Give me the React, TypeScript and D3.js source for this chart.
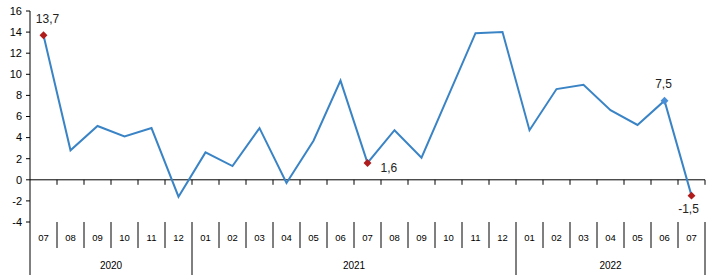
import React from "react";
import * as d3 from "d3";

const months = ["07","08","09","10","11","12","01","02","03","04","05","06","07","08","09","10","11","12","01","02","03","04","05","06","07"];
const years = ["2020","2020","2020","2020","2020","2020","2021","2021","2021","2021","2021","2021","2021","2021","2021","2021","2021","2021","2022","2022","2022","2022","2022","2022","2022"];
const values = [13.7,2.8,5.1,4.1,4.9,-1.6,2.6,1.3,4.9,-0.3,3.7,9.4,1.6,4.7,2.1,8.0,13.9,14.0,4.7,8.6,9.0,6.6,5.2,7.5,-1.5];
const yTicks = [16,14,12,10,8,6,4,2,0,-2,-4];
const labelled = [
  { i: 0, text: "13,7", color: "#b01c1c", dx: 4, dy: -12, anchor: "middle" },
  { i: 12, text: "1,6", color: "#b01c1c", dx: 13, dy: 9, anchor: "start" },
  { i: 23, text: "7,5", color: "#4a8fd6", dx: -1, dy: -13, anchor: "middle" },
  { i: 24, text: "-1,5", color: "#b01c1c", dx: -3, dy: 17, anchor: "middle" },
];

export default function App() {
  const W = 713, H = 280;
  const left = 30, right = 705;
  const keys = months.map((m, i) => `${years[i]}-${m}-${i}`);
  const x = d3.scaleBand<string>().domain(keys).range([left, right]).padding(0);
  const y = d3.scaleLinear().domain([-4, 16]).range([222, 11]);
  const bw = x.bandwidth();
  const cx = (i: number) => (x(keys[i]) as number) + bw / 2;
  const line = d3.line<number>().x((_, i) => cx(i)).y((d) => y(d));
  const y0 = y(0);
  const tableTop = y(-4);
  const monthBottom = 248;
  const yearBottom = 275;

  // year groups
  const groups: { year: string; start: number; end: number }[] = [];
  years.forEach((yr, i) => {
    const g = groups[groups.length - 1];
    if (g && g.year === yr) g.end = i;
    else groups.push({ year: yr, start: i, end: i });
  });

  const font = "Arial, 'Liberation Sans', sans-serif";
  const diamond = d3.symbol().type(d3.symbolDiamond2).size(40);

  return (
    <svg width={W} height={H} style={{ position: "absolute", left: 0, top: 0 }} fontFamily={font}>
      <rect width={W} height={H} fill="#fff" />
      {/* y axis */}
      <line x1={left} x2={left} y1={y(16)} y2={yearBottom} stroke="#000" strokeWidth={1} />
      {yTicks.map((t) => (
        <g key={t}>
          <line x1={left - 4} x2={left} y1={y(t)} y2={y(t)} stroke="#000" />
          <text x={left - 8} y={y(t)} dy="0.35em" textAnchor="end" fontSize={11} fill="#000">{t}</text>
        </g>
      ))}
      {/* zero line with category ticks */}
      <line x1={left} x2={right} y1={y0} y2={y0} stroke="#000" />
      {keys.map((k, i) => (
        <line key={"t" + i} x1={(x(k) as number) + bw} x2={(x(k) as number) + bw} y1={y0} y2={y0 + 5} stroke="#000" />
      ))}
      {/* month table */}
      {keys.map((k, i) => (
        <g key={"m" + i}>
          {i > 0 && (
            <line x1={x(k) as number} x2={x(k) as number} y1={tableTop} y2={years[i] !== years[i - 1] ? yearBottom : monthBottom} stroke="#000" />
          )}
          <text x={cx(i)} y={238} dy="0.35em" textAnchor="middle" fontSize={9.5} fill="#000">{months[i]}</text>
        </g>
      ))}
      <line x1={right} x2={right} y1={tableTop} y2={yearBottom} stroke="#000" />
      {groups.map((g) => (
        <text key={g.year} x={(cx(g.start) + cx(g.end)) / 2} y={265} dy="0.35em" textAnchor="middle" fontSize={10} fill="#000">{g.year}</text>
      ))}
      {/* series */}
      <path d={line(values) || ""} fill="none" stroke="#3a84c6" strokeWidth={2} strokeLinejoin="miter" />
      {labelled.map((l) => (
        <g key={"l" + l.i}>
          <path d={diamond() || ""} transform={`translate(${cx(l.i)},${y(values[l.i])})`} fill={l.color} />
          <text x={cx(l.i) + l.dx} y={y(values[l.i]) + l.dy} textAnchor={l.anchor as any} fontSize={12} fill="#222">{l.text}</text>
        </g>
      ))}
    </svg>
  );
}
